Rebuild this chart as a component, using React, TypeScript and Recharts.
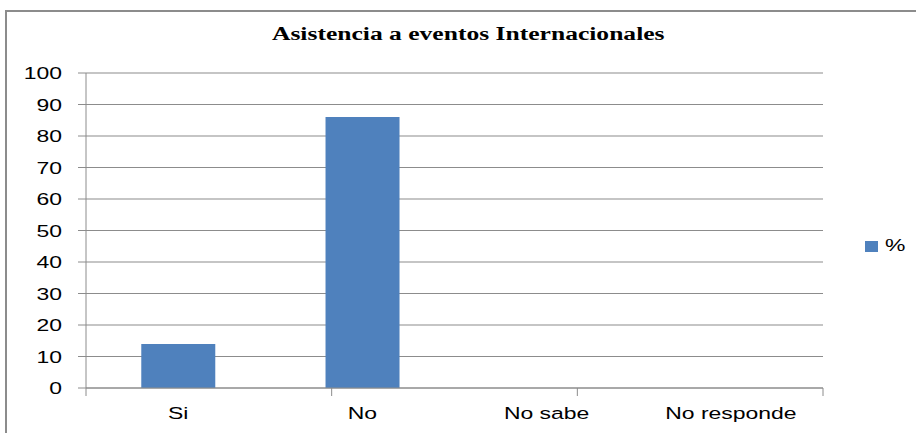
import { BarChart, Bar, XAxis, YAxis, CartesianGrid, Legend } from 'recharts';

const categories = ['Si', 'No', 'No sabe', 'No responde'];
const percentValues = [14, 86, 0, 0];
const yTicks = [0, 10, 20, 30, 40, 50, 60, 70, 80, 90, 100];
const edgeTicks = [0, 1, 2, 3, 4];

const data = categories.map((name, i) => ({ name, pct: percentValues[i] }));

const FONT = '"Liberation Sans", Arial, sans-serif';
const STRETCH = 1.35;
const GRID = '#8c8c8c';
const BLUE = '#4f81bd';

function YTick({ x, y, payload }: any) {
    return (
        <g transform={`translate(${x},${y})`}>
            <text transform={`scale(${STRETCH},1)`} textAnchor="end" dy="0.36em" fontFamily={FONT} fontSize={17} fill="#000">
                {payload.value}
            </text>
        </g>
    );
}

function XTick({ x, y, payload }: any) {
    return (
        <g transform={`translate(${x},${y})`}>
            <text transform={`scale(${STRETCH},1)`} textAnchor="middle" dy="0.71em" fontFamily={FONT} fontSize={17} fill="#000">
                {payload.value}
            </text>
        </g>
    );
}

// tick marks only, no label
function NoLabel() {
    return <g />;
}

function LegendBox({ payload }: any) {
    return (
        <div style={{ display: 'flex', alignItems: 'center' }}>
            {(payload || []).map((p: any) => (
                <div key={p.value} style={{ display: 'flex', alignItems: 'center' }}>
                    <span style={{ display: 'inline-block', width: 13, height: 11, background: p.color }} />
                    <span style={{ fontFamily: FONT, fontSize: 17, marginLeft: 7, transform: `scaleX(${STRETCH})`, transformOrigin: 'left center', display: 'inline-block' }}>
                        {p.value}
                    </span>
                </div>
            ))}
        </div>
    );
}

export default function App() {
    return (
        <div style={{ position: 'fixed', left: 0, top: 0, width: 916, height: 433, background: '#fff', overflow: 'hidden' }}>
            {/* chart frame, runs off the right and bottom of the picture */}
            <div style={{ position: 'absolute', left: 5, top: 10, width: 1000, height: 1000, borderLeft: `2px solid ${GRID}`, borderTop: `2px solid ${GRID}` }} />
            <div style={{ position: 'absolute', left: 0, width: 936, top: 24, textAlign: 'center' }}>
                <span style={{ display: 'inline-block', fontFamily: '"Liberation Serif", "Times New Roman", serif', fontWeight: 'bold', fontSize: 18, transform: `scaleX(1.42)` }}>
                    Asistencia a eventos Internacionales
                </span>
            </div>
            <div style={{ position: 'absolute', left: 0, top: 0 }}>
                <BarChart width={916} height={433} data={data} margin={{ top: 73, right: 93, bottom: 0, left: 0 }} barCategoryGap="30%">
                    <CartesianGrid vertical={false} stroke={GRID} strokeWidth={1.2} />
                    {/* boundary tick marks between categories, sits right on the plot edge */}
                    <XAxis
                        type="number"
                        domain={[0, 4]}
                        ticks={edgeTicks}
                        allowDataOverflow
                        height={1}
                        tick={<NoLabel />}
                        tickSize={8}
                        stroke={GRID}
                        tickLine={{ stroke: GRID }}
                        interval={0}
                    />
                    <XAxis
                        xAxisId="cat"
                        dataKey="name"
                        height={44}
                        axisLine={false}
                        tickLine={false}
                        tickSize={0}
                        tickMargin={18}
                        tick={<XTick />}
                        interval={0}
                    />
                    <YAxis
                        width={86}
                        domain={[0, 100]}
                        ticks={yTicks}
                        tickSize={8}
                        tickMargin={16}
                        stroke={GRID}
                        tick={<YTick />}
                        interval={0}
                    />
                    <Legend
                        layout="horizontal"
                        verticalAlign="middle"
                        width={60}
                        content={<LegendBox />}
                        wrapperStyle={{ left: 865, top: 236 }}
                    />
                    <Bar xAxisId="cat" dataKey="pct" name="%" fill={BLUE} isAnimationActive={false} />
                </BarChart>
            </div>
        </div>
    );
}
